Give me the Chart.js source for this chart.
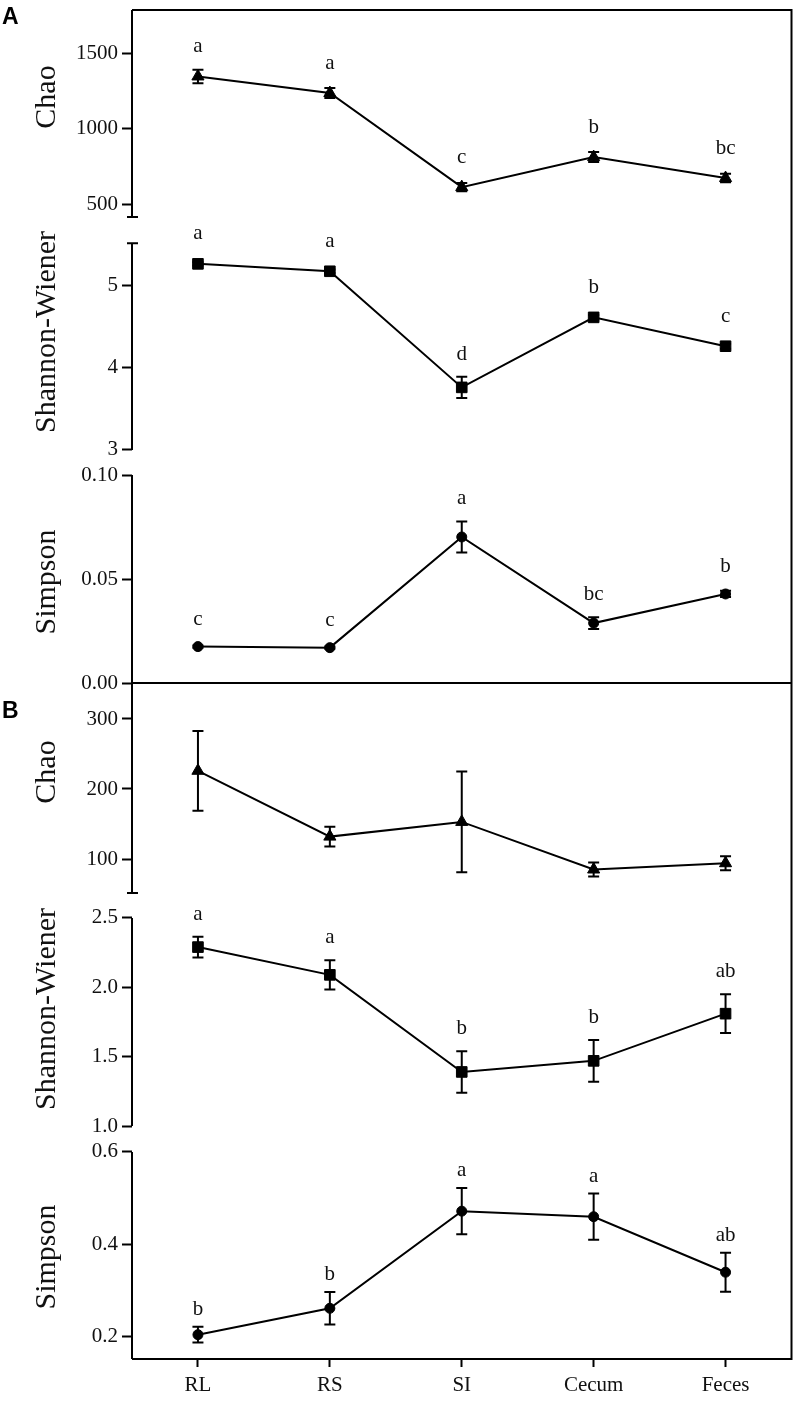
<!DOCTYPE html>
<html>
<head>
<meta charset="utf-8">
<script src="https://cdn.jsdelivr.net/npm/chart.js@4.4.0/dist/chart.umd.min.js"></script>
<style>
  html, body { margin: 0; padding: 0; background: #fff; }
  #wrap { position: relative; width: 800px; height: 1401px; }
</style>
</head>
<body>
<div id="wrap"><canvas id="chart"></canvas></div>
<script>
// sampling sites
const categories = ['RL', 'RS', 'SI', 'Cecum', 'Feces'];

// panel A
const chaoA = [1345, 1235, 612, 811, 672];
const chaoAErr = [45, 33, 28, 33, 28];
const chaoALetters = ['a', 'a', 'c', 'b', 'bc'];
const shannonA = [5.26, 5.17, 3.76, 4.61, 4.26];
const shannonAErr = [0.02, 0.02, 0.13, 0.03, 0.03];
const shannonALetters = ['a', 'a', 'd', 'b', 'c'];
const simpsonA = [0.0175, 0.017, 0.0702, 0.0288, 0.0428];
const simpsonAErr = [0.0005, 0.0005, 0.0075, 0.0028, 0.0015];
const simpsonALetters = ['c', 'c', 'a', 'bc', 'b'];

// panel B
const chaoB = [226, 132, 153, 85, 94];
const chaoBErr = [57, 14, 72, 10, 10];
const chaoBLetters = ['', '', '', '', ''];
const shannonB = [2.29, 2.09, 1.39, 1.47, 1.81];
const shannonBErr = [0.075, 0.105, 0.15, 0.15, 0.14];
const shannonBLetters = ['a', 'a', 'b', 'b', 'ab'];
const simpsonB = [0.205, 0.262, 0.472, 0.46, 0.34];
const simpsonBErr = [0.017, 0.035, 0.05, 0.05, 0.042];
const simpsonBLetters = ['b', 'b', 'a', 'a', 'ab'];

// axis ticks
const chaoATicks = [500, 1000, 1500];
const chaoATickLabels = ['500', '1000', '1500'];
const shannonATicks = [3, 4, 5];
const shannonATickLabels = ['3', '4', '5'];
const simpsonATicks = [0, 0.05, 0.1];
const simpsonATickLabels = ['0.00', '0.05', '0.10'];
const chaoBTicks = [100, 200, 300];
const chaoBTickLabels = ['100', '200', '300'];
const shannonBTicks = [1.0, 1.5, 2.0, 2.5];
const shannonBTickLabels = ['1.0', '1.5', '2.0', '2.5'];
const simpsonBTicks = [0.2, 0.4, 0.6];
const simpsonBTickLabels = ['0.2', '0.4', '0.6'];

const SERIF = "'Liberation Serif', 'Times New Roman', serif";

// 由上到下的六個子圖
const panels = [
    { id: 'yChaoA', title: 'Chao', values: chaoA, errors: chaoAErr, letters: chaoALetters,
      ticks: chaoATicks, tickLabels: chaoATickLabels, min: 328, max: 1785, weight: 220,
      marker: 'triangle', radius: 7, axisFrom: 414, axisTo: null, capTop: false, capBottom: true, titleY: 97, gap: 17 },
    { id: 'yShannonA', title: 'Shannon-Wiener', values: shannonA, errors: shannonAErr, letters: shannonALetters,
      ticks: shannonATicks, tickLabels: shannonATickLabels, min: 2.854, max: 5.671, weight: 232,
      marker: 'rect', radius: 7.5, axisFrom: 3, axisTo: 5.51, capTop: true, capBottom: false, titleY: 332, gap: 17 },
    { id: 'ySimpsonA', title: 'Simpson', values: simpsonA, errors: simpsonAErr, letters: simpsonALetters,
      ticks: simpsonATicks, tickLabels: simpsonATickLabels, min: 0, max: 0.10625, weight: 221,
      marker: 'circle', radius: 5, axisFrom: 0, axisTo: 0.1, capTop: false, capBottom: false, titleY: 582, gap: 17 },
    { id: 'yChaoB', title: 'Chao', values: chaoB, errors: chaoBErr, letters: chaoBLetters,
      ticks: chaoBTicks, tickLabels: chaoBTickLabels, min: 34.3, max: 351.4, weight: 222,
      marker: 'triangle', radius: 7, axisFrom: 51.4, axisTo: null, capTop: false, capBottom: true, titleY: 772, gap: 17 },
    { id: 'yShannonB', title: 'Shannon-Wiener', values: shannonB, errors: shannonBErr, letters: shannonBLetters,
      ticks: shannonBTicks, tickLabels: shannonBTickLabels, min: 0.9065, max: 2.5935, weight: 234,
      marker: 'rect', radius: 7.5, axisFrom: 1.0, axisTo: 2.5, capTop: false, capBottom: false, titleY: 1009, gap: 17 },
    { id: 'ySimpsonB', title: 'Simpson', values: simpsonB, errors: simpsonBErr, letters: simpsonBLetters,
      ticks: simpsonBTicks, tickLabels: simpsonBTickLabels, min: 0.1524, max: 0.628, weight: 220,
      marker: 'circle', radius: 5, axisFrom: null, axisTo: 0.6, capTop: false, capBottom: false, titleY: 1257, gap: 12 }
];

function makeYScale(p) {
    return {
        type: 'linear',
        position: 'left',
        stack: 'panels',
        stackWeight: p.weight,
        min: p.min,
        max: p.max,
        border: { display: false },
        grid: { drawOnChartArea: false, drawTicks: true, tickLength: 10, tickWidth: 2, tickColor: '#000' },
        ticks: {
            color: '#111',
            padding: 4,
            font: { family: SERIF, size: 21 },
            callback: (value) => {
                const k = p.ticks.findIndex(t => Math.abs(t - value) < 1e-9);
                return k >= 0 ? p.tickLabels[k] : '';
            }
        },
        afterBuildTicks: (scale) => { scale.ticks = p.ticks.map(v => ({ value: v })); },
        afterFit: (scale) => { scale.width = 132; scale.paddingTop = 0; scale.paddingBottom = 0; }
    };
}

const scales = {
    x: {
        type: 'category',
        offset: true,
        border: { display: false },
        grid: { offset: false, drawOnChartArea: false, drawTicks: true, tickLength: 8, tickWidth: 2, tickColor: '#000' },
        ticks: { color: '#111', padding: 6, maxRotation: 0, font: { family: SERIF, size: 21 } },
        afterFit: (scale) => { scale.height = 42; scale.paddingLeft = 0; scale.paddingRight = 0; }
    }
};
// 堆疊順序: 後定義的在上方
panels.slice().reverse().forEach(p => { scales[p.id] = makeYScale(p); });

const datasets = panels.map(p => ({
    label: p.title,
    data: p.values,
    yAxisID: p.id,
    borderColor: '#000',
    borderWidth: 2,
    backgroundColor: '#000',
    pointStyle: p.marker,
    pointRadius: p.radius,
    pointBorderWidth: 1,
    pointBackgroundColor: '#000',
    pointBorderColor: '#000',
    tension: 0
}));

// 框線、軸線、誤差線、字母標記
const overlay = {
    id: 'overlay',
    afterDatasetsDraw(chart) {
        const ctx = chart.ctx;
        const area = chart.chartArea;
        const xs = chart.scales.x;
        ctx.save();
        ctx.strokeStyle = '#000';
        ctx.fillStyle = '#000';
        ctx.lineWidth = 2;
        ctx.lineCap = 'butt';

        // frame
        const divY = chart.scales.ySimpsonA.getPixelForValue(0);
        ctx.beginPath();
        ctx.moveTo(area.left, area.top); ctx.lineTo(area.right, area.top);
        ctx.lineTo(area.right, area.bottom); ctx.lineTo(area.left, area.bottom);
        ctx.moveTo(area.left, divY); ctx.lineTo(area.right, divY);
        ctx.stroke();

        panels.forEach(p => {
            const ys = chart.scales[p.id];
            // left axis segment
            const yTop = p.axisTo === null ? ys.top : ys.getPixelForValue(p.axisTo);
            const yBot = p.axisFrom === null ? ys.bottom : ys.getPixelForValue(p.axisFrom);
            ctx.beginPath();
            ctx.moveTo(area.left, yTop); ctx.lineTo(area.left, yBot);
            if (p.capTop) { ctx.moveTo(area.left - 5, yTop); ctx.lineTo(area.left + 6, yTop); }
            if (p.capBottom) { ctx.moveTo(area.left - 5, yBot); ctx.lineTo(area.left + 6, yBot); }
            ctx.stroke();

            // error bars + letters
            p.values.forEach((v, i) => {
                const x = xs.getPixelForValue(i);
                const e = p.errors[i];
                const yHi = ys.getPixelForValue(v + e);
                const yLo = ys.getPixelForValue(v - e);
                ctx.beginPath();
                ctx.moveTo(x, yHi); ctx.lineTo(x, yLo);
                ctx.moveTo(x - 5.5, yHi); ctx.lineTo(x + 5.5, yHi);
                ctx.moveTo(x - 5.5, yLo); ctx.lineTo(x + 5.5, yLo);
                ctx.stroke();

                if (p.letters[i]) {
                    const markTop = ys.getPixelForValue(v) - p.radius;
                    const base = Math.min(yHi, markTop) - p.gap;
                    ctx.font = '21px ' + SERIF;
                    ctx.textAlign = 'center';
                    ctx.textBaseline = 'alphabetic';
                    ctx.fillStyle = '#111';
                    ctx.fillText(p.letters[i], x, base);
                }
            });

            // y axis title
            ctx.save();
            ctx.translate(47, p.titleY);
            ctx.rotate(-Math.PI / 2);
            ctx.font = '30px ' + SERIF;
            ctx.textAlign = 'center';
            ctx.textBaseline = 'middle';
            ctx.fillStyle = '#111';
            ctx.fillText(p.title, 0, 0);
            ctx.restore();
        });

        // panel letters
        ctx.font = "bold 23px 'Liberation Sans', Arial, sans-serif";
        ctx.textAlign = 'left';
        ctx.textBaseline = 'alphabetic';
        ctx.fillStyle = '#000';
        ctx.fillText('A', 2, 24);
        ctx.fillText('B', 2, divY + 35);
        ctx.restore();
    }
};

new Chart(document.getElementById('chart'), {
    type: 'line',
    data: { labels: categories, datasets: datasets },
    options: {
        responsive: true,
        maintainAspectRatio: false,
        animation: false,
        layout: { padding: { top: 10, right: 8, left: 0, bottom: 0 } },
        plugins: { legend: { display: false }, tooltip: { enabled: false } },
        scales: scales
    },
    plugins: [overlay]
});
</script>
</body>
</html>
